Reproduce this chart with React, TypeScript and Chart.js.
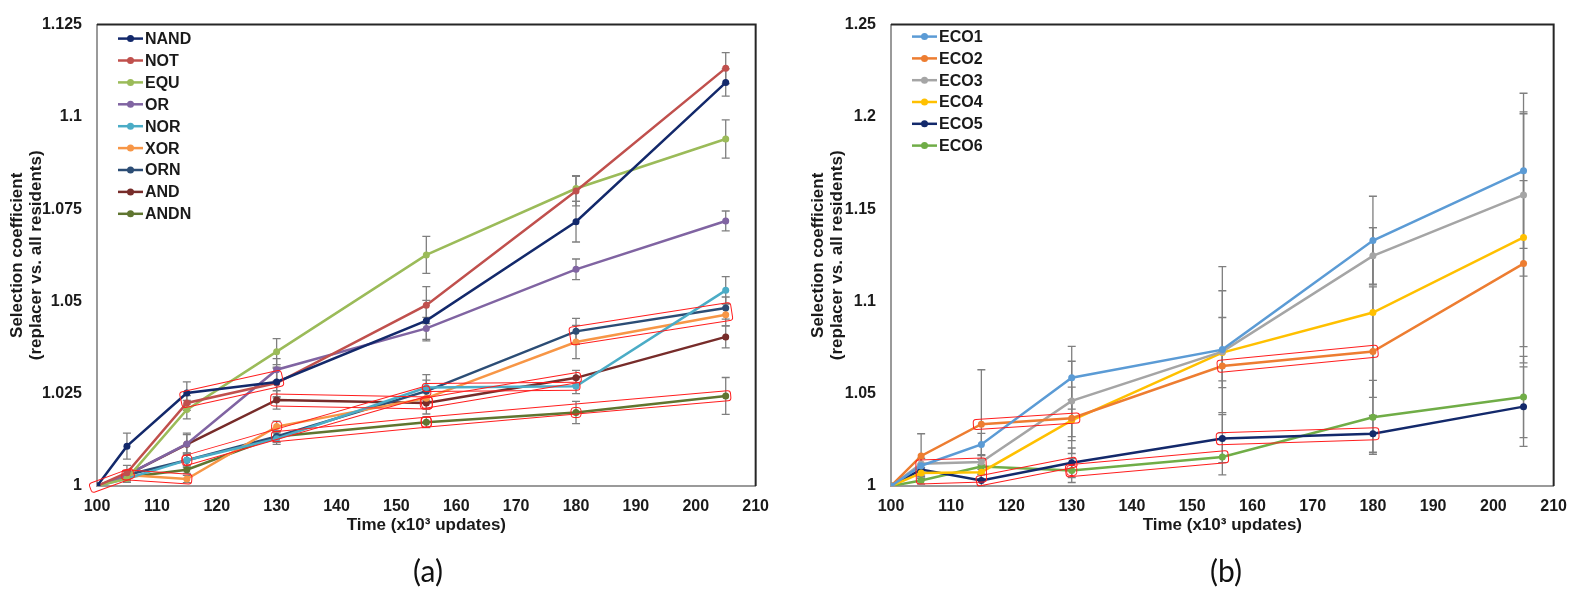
import React, { useEffect, useRef } from 'react';
import { Chart, registerables } from 'chart.js';

Chart.register(...registerables);

// ---------- shared axes ----------
const TIMES = [100, 105, 115, 130, 155, 180, 205];
const X_TICKS = [100, 110, 120, 130, 140, 150, 160, 170, 180, 190, 200, 210];
const Y_TICKS_A = [1, 1.025, 1.05, 1.075, 1.1, 1.125];
const Y_TICKS_B = [1, 1.05, 1.1, 1.15, 1.2, 1.25];

// ---------- panel (a) ----------
const NAMES_A = ['NAND', 'NOT', 'EQU', 'OR', 'NOR', 'XOR', 'ORN', 'AND', 'ANDN'];
const NAND = [1, 1.0108, 1.0252, 1.0282, 1.0448, 1.0716, 1.1093];
const NOT = [1, 1.0036, 1.0225, 1.0279, 1.049, 1.0799, 1.1132];
const EQU = [1, 1.002, 1.0207, 1.0364, 1.0626, 1.0806, 1.094];
const OR = [1, 1.003, 1.0114, 1.0315, 1.0427, 1.0587, 1.0718];
const NOR = [1, 1.002, 1.007, 1.0128, 1.0267, 1.027, 1.053];
const XOR = [1, 1.003, 1.0019, 1.0161, 1.0238, 1.039, 1.0464];
const ORN = [1, 1.003, 1.007, 1.0134, 1.0257, 1.0419, 1.0482];
const AND = [1, 1.003, 1.0113, 1.0233, 1.0225, 1.0293, 1.0404];
const ANDN = [1, 1.0024, 1.0044, 1.0134, 1.0173, 1.0199, 1.0244];

const NAND_ERR = [0, 0.0035, 0.003, 0.004, 0.0055, 0.0055, 0.0037];
const NOT_ERR = [0, 0.002, 0.002, 0.004, 0.005, 0.004, 0.0042];
const EQU_ERR = [0, 0.001, 0.0025, 0.0035, 0.005, 0.0035, 0.0052];
const OR_ERR = [0, 0.001, 0.0025, 0.003, 0.003, 0.0028, 0.0027];
const NOR_ERR = [0, 0.001, 0.0015, 0.0015, 0.0035, 0.002, 0.0037];
const XOR_ERR = [0, 0.001, 0.001, 0.0015, 0.003, 0.0045, 0.003];
const ORN_ERR = [0, 0.001, 0.002, 0.0015, 0.003, 0.0035, 0.003];
const AND_ERR = [0, 0.001, 0.003, 0.0025, 0.003, 0.002, 0.003];
const ANDN_ERR = [0, 0.001, 0.001, 0.0015, 0.0015, 0.003, 0.005];

const COLORS_A = ['#13296b', '#c0504d', '#9bbb59', '#8064a2', '#4bacc6', '#f79646', '#2c4d75', '#772c2a', '#5f7530'];

// ---------- panel (b) ----------
const NAMES_B = ['ECO1', 'ECO2', 'ECO3', 'ECO4', 'ECO5', 'ECO6'];
const ECO1 = [1, 1.011, 1.0225, 1.0587, 1.0739, 1.133, 1.1708];
const ECO2 = [1, 1.0163, 1.0335, 1.0367, 1.065, 1.0729, 1.1205];
const ECO3 = [1, 1.012, 1.013, 1.0461, 1.0728, 1.1247, 1.1577];
const ECO4 = [1, 1.007, 1.0075, 1.0356, 1.0723, 1.094, 1.1347];
const ECO5 = [1, 1.0089, 1.003, 1.0126, 1.0257, 1.0283, 1.043];
const ECO6 = [1, 1.003, 1.0105, 1.0084, 1.0157, 1.0372, 1.0482];

const ECO1_ERR = [0, 0.004, 0.006, 0.017, 0.045, 0.024, 0.042];
const ECO2_ERR = [0, 0.012, 0.0295, 0.01, 0.008, 0.035, 0.045];
const ECO3_ERR = [0, 0.003, 0.004, 0.0215, 0.033, 0.0153, 0.044];
const ECO4_ERR = [0, 0.003, 0.004, 0.018, 0.019, 0.046, 0.068];
const ECO5_ERR = [0, 0.003, 0.003, 0.008, 0.013, 0.01, 0.0215];
const ECO6_ERR = [0, 0.002, 0.004, 0.0065, 0.0097, 0.02, 0.022];

const COLORS_B = ['#5b9bd5', '#ed7d31', '#a5a5a5', '#ffc000', '#13296b', '#70ad47'];

// ---------- highlighted segments (series, from index, to index) ----------
const BOXES_A = [
  { s: 'ORN', a: 0, b: 1, h: 5, pad: 7, dy: 0 },
  { s: 'XOR', a: 1, b: 2, h: 5, pad: 5, dy: 0 },
  { s: 'NOT', a: 2, b: 3, h: 8, pad: 6, dy: -4 },
  { s: 'ORN', a: 2, b: 2, h: 5, pad: 5, dy: 0 },
  { s: 'ORN', a: 2, b: 4, h: 5, pad: 4, dy: 0 },
  { s: 'XOR', a: 3, b: 3, h: 5, pad: 5, dy: 0 },
  { s: 'AND', a: 3, b: 4, h: 6, pad: 6, dy: 0 },
  { s: 'AND', a: 4, b: 5, h: 5, pad: 5, dy: 0 },
  { s: 'AND', a: 4, b: 4, h: 6, pad: 6, dy: 0 },
  { s: 'NOR', a: 4, b: 5, h: 4, pad: 4, dy: 0 },
  { s: 'ANDN', a: 3, b: 4, h: 5, pad: 5, dy: 0 },
  { s: 'ANDN', a: 4, b: 6, h: 5, pad: 5, dy: 0 },
  { s: 'ANDN', a: 4, b: 4, h: 5, pad: 5, dy: 0 },
  { s: 'ANDN', a: 5, b: 5, h: 5, pad: 5, dy: 0 },
  { s: 'ORN', a: 5, b: 6, h: 9, pad: 6, dy: 4 },
];
const BOXES_B = [
  { s: 'ECO2', a: 2, b: 3, h: 5, pad: 8, dy: 0 },
  { s: 'ECO3', a: 1, b: 2, h: 12, pad: 5, dy: 8 },
  { s: 'ECO5', a: 2, b: 3, h: 5, pad: 5, dy: 0 },
  { s: 'ECO6', a: 3, b: 4, h: 6, pad: 6, dy: 0 },
  { s: 'ECO6', a: 3, b: 3, h: 5, pad: 5, dy: 0 },
  { s: 'ECO5', a: 4, b: 5, h: 6, pad: 6, dy: 0 },
  { s: 'ECO2', a: 4, b: 5, h: 6, pad: 5, dy: 0 },
];

const FONT = 'Arial, "Liberation Sans", Helvetica, sans-serif';
const TEXT = '#1a1a1a';

const customPlugin = {
  id: 'custom',
  beforeDatasetsDraw(chart: any) {
    const { ctx, scales } = chart;
    const xs = scales.x, ys = scales.y;
    ctx.save();
    ctx.strokeStyle = '#7f7f7f';
    ctx.lineWidth = 1.3;
    chart.data.datasets.forEach((ds: any) => {
      ds.data.forEach((p: any, i: number) => {
        const e = ds.errors[i];
        if (!e) return;
        const x = xs.getPixelForValue(p.x);
        const y1 = ys.getPixelForValue(p.y + e);
        const y2 = ys.getPixelForValue(p.y - e);
        ctx.beginPath();
        ctx.moveTo(x, y1); ctx.lineTo(x, y2);
        ctx.moveTo(x - 4, y1); ctx.lineTo(x + 4, y1);
        ctx.moveTo(x - 4, y2); ctx.lineTo(x + 4, y2);
        ctx.stroke();
      });
    });
    ctx.restore();
  },
  afterDatasetsDraw(chart: any) {
    const { ctx, chartArea, scales } = chart;
    const xs = scales.x, ys = scales.y;
    const opts = chart.options.plugins.custom;
    // highlight boxes
    ctx.save();
    ctx.strokeStyle = '#ff1e1e';
    ctx.lineWidth = 1;
    opts.boxes.forEach((bx: any) => {
      const ds = chart.data.datasets.find((d: any) => d.label === bx.s);
      if (!ds) return;
      const pa = ds.data[bx.a], pb = ds.data[bx.b];
      const x1 = xs.getPixelForValue(pa.x), y1 = ys.getPixelForValue(pa.y) + bx.dy;
      const x2 = xs.getPixelForValue(pb.x), y2 = ys.getPixelForValue(pb.y) + bx.dy;
      const len = Math.hypot(x2 - x1, y2 - y1);
      const ang = len > 0 ? Math.atan2(y2 - y1, x2 - x1) : 0;
      ctx.save();
      ctx.translate(x1, y1);
      ctx.rotate(ang);
      ctx.beginPath();
      ctx.roundRect(-bx.pad, -bx.h, len + 2 * bx.pad, 2 * bx.h, 3);
      ctx.stroke();
      ctx.restore();
    });
    ctx.restore();
    // top / right frame
    ctx.save();
    ctx.strokeStyle = '#262626';
    ctx.lineWidth = 2;
    ctx.beginPath();
    ctx.moveTo(chartArea.left, chartArea.top);
    ctx.lineTo(chartArea.right, chartArea.top);
    ctx.lineTo(chartArea.right, chartArea.bottom);
    ctx.stroke();
    ctx.restore();
    // legend
    ctx.save();
    ctx.font = `bold 16px ${FONT}`;
    ctx.textBaseline = 'middle';
    chart.data.datasets.forEach((ds: any, i: number) => {
      const y = chartArea.top + opts.legendTop + i * opts.legendGap;
      const x0 = chartArea.left + 21;
      ctx.strokeStyle = ds.borderColor;
      ctx.lineWidth = 2.5;
      ctx.beginPath();
      ctx.moveTo(x0, y); ctx.lineTo(x0 + 25, y);
      ctx.stroke();
      ctx.fillStyle = ds.borderColor;
      ctx.beginPath();
      ctx.arc(x0 + 12.5, y, 3.5, 0, Math.PI * 2);
      ctx.fill();
      ctx.fillStyle = TEXT;
      ctx.fillText(ds.label, x0 + 27, y + 1);
    });
    ctx.restore();
  },
};

function buildConfig(p: any) {
  const datasets = p.names.map((n: string, i: number) => ({
    label: n,
    data: TIMES.map((t, j) => ({ x: t, y: p.values[i][j] })),
    errors: p.errors[i],
    borderColor: p.colors[i],
    backgroundColor: p.colors[i],
    pointBackgroundColor: p.colors[i],
    pointBorderWidth: 0,
    pointRadius: 3.5,
    borderWidth: 2.5,
    tension: 0,
    fill: false,
  }));
  const tickFont = { family: FONT, size: 16, weight: 'bold' as const };
  const titleFont = { family: FONT, size: 17, weight: 'bold' as const, lineHeight: 1.1 };
  return {
    type: 'line' as const,
    data: { datasets },
    options: {
      responsive: false,
      animation: false as const,
      events: [],
      layout: { padding: { left: 0, top: 9, right: p.padRight, bottom: 0 } },
      plugins: {
        legend: { display: false },
        tooltip: { enabled: false },
        custom: { boxes: p.boxes, legendTop: p.legendTop, legendGap: p.legendGap },
      },
      scales: {
        x: {
          type: 'linear' as const,
          min: 100,
          max: 210,
          afterBuildTicks: (s: any) => { s.ticks = X_TICKS.map((v) => ({ value: v })); },
          afterFit: (s: any) => { s.height = 104; },
          grid: { display: false, drawTicks: false },
          border: { display: true, color: '#9a9a9a', width: 2 },
          ticks: { font: tickFont, color: TEXT, padding: 11, maxRotation: 0, autoSkip: false },
          title: { display: true, text: 'Time (x10³ updates)', font: titleFont, color: TEXT, padding: { top: 0, bottom: 55 } },
        },
        y: {
          type: 'linear' as const,
          min: p.yTicks[0],
          max: p.yTicks[p.yTicks.length - 1],
          afterBuildTicks: (s: any) => { s.ticks = p.yTicks.map((v: number) => ({ value: v })); },
          afterFit: (s: any) => { s.width = p.yWidth; },
          grid: { display: false, drawTicks: false },
          border: { display: true, color: '#9a9a9a', width: 2 },
          ticks: {
            font: tickFont, color: TEXT, padding: 15, autoSkip: false,
            callback: (v: any) => String(Number(Number(v).toFixed(3))),
          },
          title: {
            display: true,
            text: ['Selection coefficient', '(replacer vs. all residents)'],
            font: titleFont, color: TEXT, padding: { top: p.titlePad, bottom: 0 },
          },
        },
      },
    },
    plugins: [customPlugin],
  };
}

const PANEL_A = {
  names: NAMES_A,
  values: [NAND, NOT, EQU, OR, NOR, XOR, ORN, AND, ANDN],
  errors: [NAND_ERR, NOT_ERR, EQU_ERR, OR_ERR, NOR_ERR, XOR_ERR, ORN_ERR, AND_ERR, ANDN_ERR],
  colors: COLORS_A,
  yTicks: Y_TICKS_A,
  boxes: BOXES_A,
  yWidth: 97,
  padRight: 21,
  titlePad: 8,
  legendTop: 14,
  legendGap: 21.9,
};
const PANEL_B = {
  names: NAMES_B,
  values: [ECO1, ECO2, ECO3, ECO4, ECO5, ECO6],
  errors: [ECO1_ERR, ECO2_ERR, ECO3_ERR, ECO4_ERR, ECO5_ERR, ECO6_ERR],
  colors: COLORS_B,
  yTicks: Y_TICKS_B,
  boxes: BOXES_B,
  yWidth: 101,
  padRight: 16,
  titlePad: 19,
  legendTop: 12,
  legendGap: 21.8,
};

function Panel({ cfg, left, width }: { cfg: any; left: number; width: number }) {
  const ref = useRef<HTMLCanvasElement | null>(null);
  useEffect(() => {
    if (!ref.current) return;
    const chart = new Chart(ref.current, buildConfig(cfg) as any);
    return () => chart.destroy();
  }, [cfg]);
  return (
    <canvas
      ref={ref}
      width={width}
      height={590}
      style={{ position: 'absolute', left, top: 0, width, height: 590 }}
    />
  );
}

export default function App() {
  const capStyle: React.CSSProperties = {
    position: 'absolute',
    top: 550,
    width: 100,
    height: 40,
    lineHeight: '40px',
    textAlign: 'center',
    fontFamily: 'Lato, "Open Sans", sans-serif',
    fontSize: 30,
    color: '#111',
  };
  return (
    <div style={{ position: 'absolute', left: 0, top: 0, width: 1578, height: 590, background: '#fff' }}>
      <Panel cfg={PANEL_A} left={0} width={780} />
      <Panel cfg={PANEL_B} left={790} width={788} />
      <div style={{ ...capStyle, left: 378 }}>(a)</div>
      <div style={{ ...capStyle, left: 1176 }}>(b)</div>
    </div>
  );
}
